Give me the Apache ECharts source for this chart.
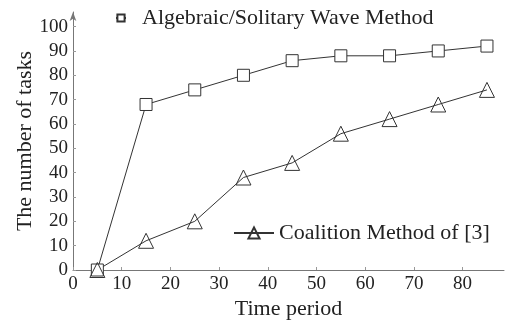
<!DOCTYPE html>
<html>
<head>
<meta charset="utf-8">
<script src="https://cdn.jsdelivr.net/npm/echarts@6/dist/echarts.min.js"></script>
<style>
  html, body { margin: 0; padding: 0; background: #fff; }
  #chart { width: 506px; height: 323px; }
</style>
</head>
<body>
<div id="chart"></div>
<script>
const timePeriods = [5, 15, 25, 35, 45, 55, 65, 75, 85];
const algebraicTasks = [0, 68, 74, 80, 86, 88, 88, 90, 92];
const coalitionTasks = [0, 12, 20, 38, 44, 56, 62, 68, 74];
const xTicks = [0, 10, 20, 30, 40, 50, 60, 70, 80];
const yTicks = [0, 10, 20, 30, 40, 50, 60, 70, 80, 90, 100];

const serif = "Liberation Serif";
const ink = "#222";

const chart = echarts.init(document.getElementById("chart"));

const pairs = (ys) => timePeriods.map((x, i) => [x, ys[i]]);

chart.setOption({
  animation: false,
  textStyle: { fontFamily: serif, color: ink },
  grid: { left: 73, right: 2, top: 12, bottom: 53, outerBoundsMode: "none" },
  legend: [
    {
      data: ["Algebraic/Solitary Wave Method"],
      left: 110,
      top: 2,
      itemWidth: 10,
      itemHeight: 9,
      textStyle: { fontFamily: serif, fontSize: 22, color: ink, padding: [0, 0, 0, 11] },
    },
    {
      data: ["Coalition Method of [3]"],
      left: 228,
      top: 217,
      itemWidth: 40,
      itemHeight: 14,
      textStyle: { fontFamily: serif, fontSize: 22, color: ink },
    },
  ],
  xAxis: {
    type: "value",
    min: 0,
    max: 88.5,
    name: "Time period",
    nameLocation: "middle",
    nameGap: 28,
    nameMoveOverlap: false,
    nameTextStyle: { fontFamily: serif, fontSize: 22, color: ink },
    axisLine: { lineStyle: { color: "#777", width: 1 } },
    axisTick: { inside: true, length: 3, customValues: xTicks, lineStyle: { color: "#999" } },
    axisLabel: { customValues: xTicks, fontFamily: serif, fontSize: 19, color: ink, margin: 5 },
    splitLine: { show: false },
  },
  yAxis: {
    type: "value",
    min: 0,
    max: 106,
    name: "The number of tasks",
    nameLocation: "middle",
    nameGap: 37,
    nameMoveOverlap: false,
    nameRotate: 90,
    nameTextStyle: { fontFamily: serif, fontSize: 22, color: ink },
    axisLine: {
      show: true,
      symbol: ["none", "arrow"],
      symbolSize: [5, 9],
      lineStyle: { color: "#777", width: 1 },
    },
    axisTick: { show: true, inside: true, length: 3, customValues: yTicks, lineStyle: { color: "#999" } },
    axisLabel: { customValues: yTicks, fontFamily: serif, fontSize: 19, color: ink, margin: 5 },
    splitLine: { show: false },
  },
  series: [
    {
      name: "Algebraic/Solitary Wave Method",
      type: "line",
      data: pairs(algebraicTasks),
      symbol: "rect",
      symbolSize: 12,
      showAllSymbol: true,
      lineStyle: { color: "#333", width: 1 },
      itemStyle: { color: "#fff", borderColor: "#333", borderWidth: 1 },
    },
    {
      name: "Coalition Method of [3]",
      type: "line",
      data: pairs(coalitionTasks),
      symbol: "triangle",
      symbolSize: 15,
      showAllSymbol: true,
      lineStyle: { color: "#333", width: 1 },
      itemStyle: { color: "rgba(255,255,255,0)", borderColor: "#333", borderWidth: 1 },
    },
  ],
});
</script>
</body>
</html>
